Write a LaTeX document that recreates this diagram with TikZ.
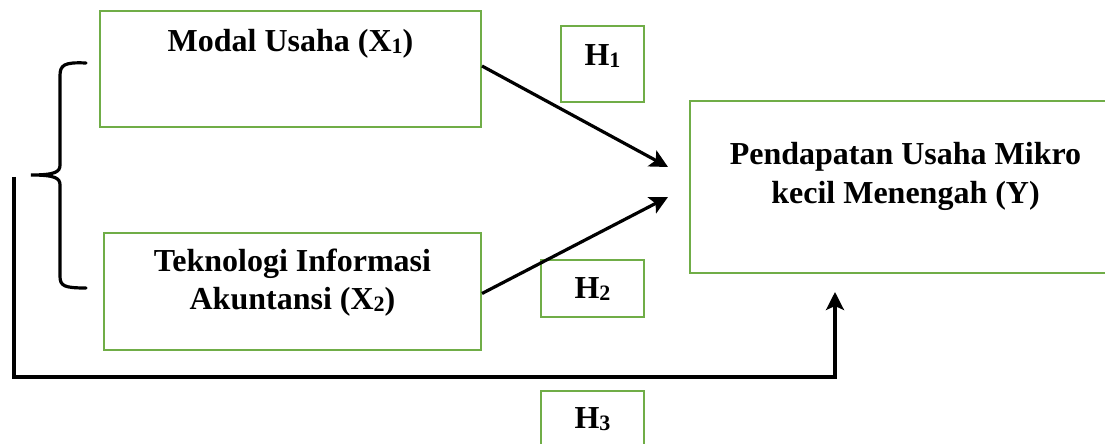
\documentclass[tikz,border=0pt]{standalone}
\usepackage{fontspec}
\setmainfont{Liberation Serif}
\usepackage{xcolor}
\usetikzlibrary{arrows.meta, positioning, calc}
\definecolor{boxgreen}{RGB}{112,173,71}
\newcommand{\vsub}[1]{\raisebox{-1pt}{\fontsize{11}{11}\selectfont #1}}

\begin{document}
\begin{tikzpicture}[
    x=0.5pt, y=-0.5pt,
    % gaya kotak dan teks
    box/.style={rectangle, draw=boxgreen, line width=1pt, inner sep=0pt},
    boxtext/.style={font=\fontsize{16}{19.5}\selectfont\bfseries, align=center, inner sep=0pt, anchor=base},
    arrow/.style={line width=1.6pt, -{Stealth[length=9pt, width=9pt, inset=2pt]}},
    line/.style={line width=1.6pt, line cap=round}
    ]
    \clip (0,0) rectangle (1105,444);

    % --- kotak variabel ---
    \node[box, anchor=north west, minimum width=190.5pt, minimum height=58pt] (x1) at (99,10) {};
    \node[box, below=52pt of x1.south west, anchor=north west, xshift=2pt, minimum width=188.5pt, minimum height=58.5pt] (x2) {};
    \node[box, anchor=north west, minimum width=215.5pt, minimum height=86pt] (y) at (689,100) {};

    % --- kotak hipotesis ---
    \node[box, anchor=north west, minimum width=41.5pt, minimum height=38pt] (h1) at (560,25) {};
    \node[box, anchor=north west, minimum width=51.5pt, minimum height=28.5pt] (h2) at (540,259) {};
    \node[box, anchor=north west, minimum width=51.5pt, minimum height=30pt] (h3) at (540,390) {};

    % --- teks ---
    \node[boxtext] (x1txt) at ([yshift=-21pt]x1.north) {Modal Usaha (X\vsub{1})};
    \node[boxtext] (x2txt) at ([yshift=-39pt]x2.north) {Teknologi Informasi\\Akuntansi (X\vsub{2})};
    \node[boxtext] (ytxt) at ([yshift=-52pt]y.north) {Pendapatan Usaha Mikro\\kecil Menengah (Y)};
    \node[boxtext] (h1txt) at ([yshift=-20.5pt]h1.north) {H\vsub{1}};
    \node[boxtext] (h2txt) at ([yshift=-20pt]h2.north) {H\vsub{2}};
    \node[boxtext] (h3txt) at ([yshift=-19.5pt]h3.north) {H\vsub{3}};

    % --- titik ujung panah ---
    \coordinate (h1in) at ([xshift=-10.5pt, yshift=10pt]y.west);
    \coordinate (h2in) at ([xshift=-10.5pt, yshift=-5pt]y.west);
    \coordinate (h3in) at ([xshift=73pt, yshift=-9pt]y.south west);
    \coordinate (h3start) at (14,177);
    \coordinate (h3low) at (14,377);

    % --- kurung kurawal ---
    \draw[line] (86,63) .. controls (64,62) and (60,65) .. (60,76) -- (60,165)
        .. controls (60,172) and (55,175) .. (31,175)
        .. controls (55,175) and (60,178) .. (60,185) -- (60,276)
        .. controls (60,286) and (64,288) .. (86,288);

    % --- panah ---
    \draw[arrow] ([yshift=1.5pt]x1.east) -- (h1in);
    \draw[arrow] ([yshift=-1pt]x2.east) -- (h2in);
    \draw[arrow] (h3start) -- (h3low) -| (h3in);
\end{tikzpicture}
\end{document}
